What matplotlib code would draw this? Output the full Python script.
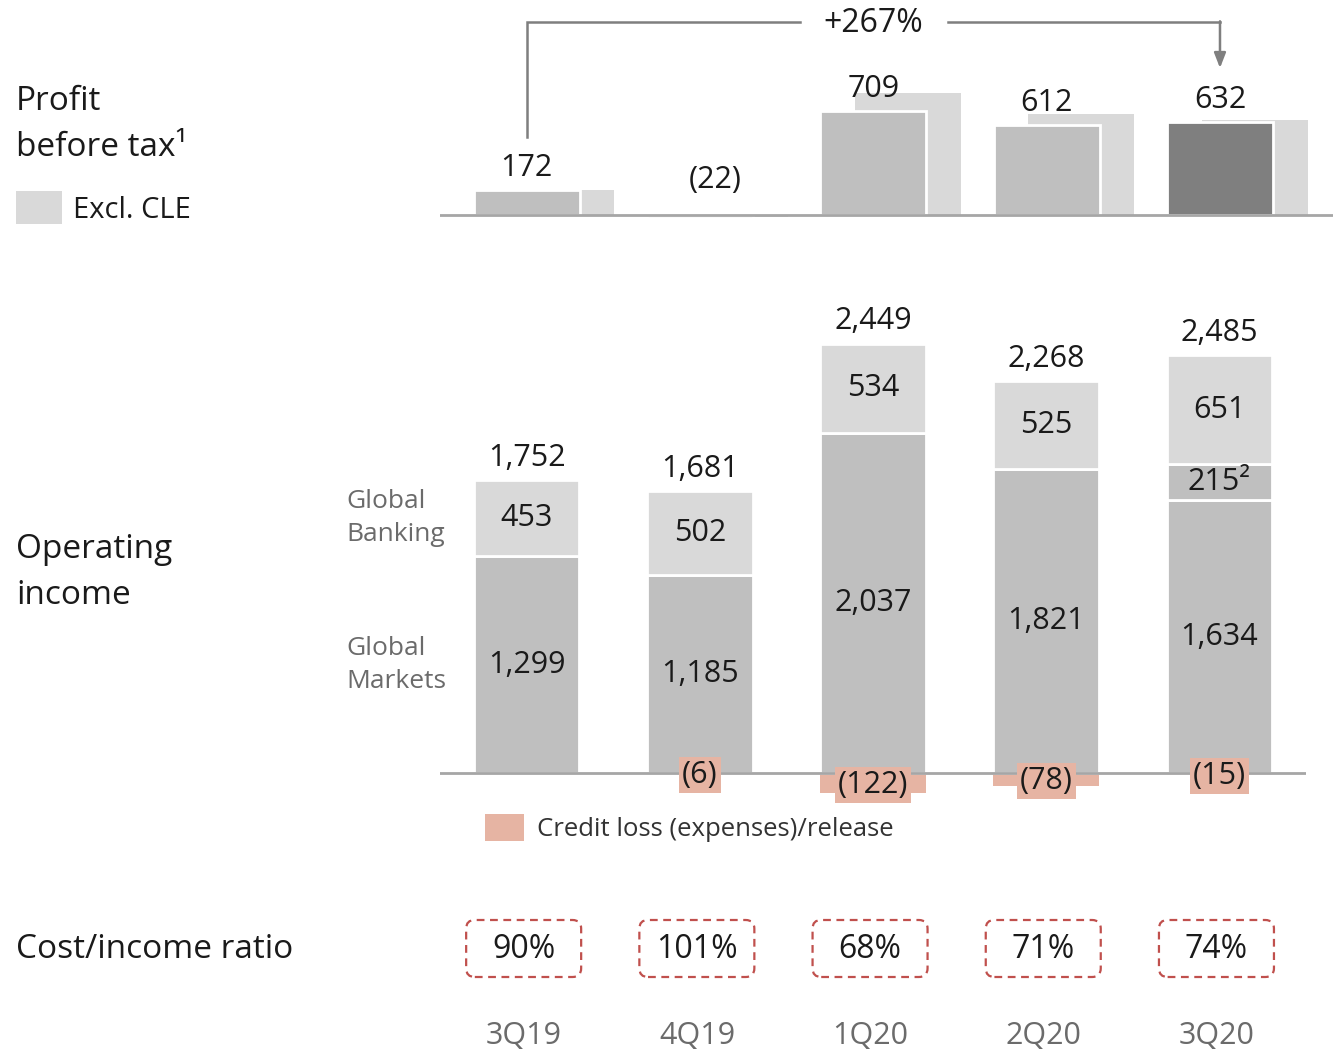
import matplotlib.pyplot as plt
from matplotlib.patches import Rectangle, FancyBboxPatch

plt.rcParams['font.family'] = ['Open Sans', 'DejaVu Sans']

# data
quarters = ['3Q19', '4Q19', '1Q20', '2Q20', '3Q20']
profit = [172, -22, 709, 612, 632]
profit_excl_cle = [172, -16, 831, 690, 647]
global_markets = [1299, 1185, 2037, 1821, 1634]
other = [0, 0, 0, 0, 215]
global_banking = [453, 502, 534, 525, 651]
credit_loss = [0, -6, -122, -78, -15]
total_income = [1752, 1681, 2449, 2268, 2485]
cost_income = ['90%', '101%', '68%', '71%', '74%']

# colours
c_gm = '#bfbfbf'
c_gb = '#d9d9d9'
c_dark = '#7f7f7f'
c_pink = '#e6b4a3'
c_red = '#c0504d'
c_line = '#a6a6a6'
c_txt = '#1a1a1a'
c_grey_txt = '#6b6b6b'

W, H = 1333, 1050
fig = plt.figure(figsize=(W / 100, H / 100), dpi=100)
x = list(range(len(quarters)))
bw = 0.61
fs_num = 22

def px_axes(left, top, right, bottom):
    return fig.add_axes([left / W, 1 - bottom / H, (right - left) / W, (bottom - top) / H])

# ---- profit before tax ----
ax1 = px_axes(440, 0, 1333, 250)
ax1.set_axis_off()
ax1.set_xlim(-0.5, 4.652)
ax1.set_ylim(-238, 1463)
ax1.bar([i + 0.2 for i in x], profit_excl_cle, width=bw, color=c_gb, zorder=1)
cols = [c_gm, '#e3e3e3', c_gm, c_gm, c_dark]
ax1.bar(x, profit, width=bw, color=cols, edgecolor='white', linewidth=2, zorder=2)
ax1.axhline(0, color=c_line, lw=2, zorder=3)
for i, v in enumerate(profit):
    if v >= 0:
        ax1.annotate(f'{v:,}', (i, v), xytext=(0, 16), textcoords='offset points',
                     ha='center', va='center', fontsize=fs_num, color=c_txt, zorder=4)
    else:
        ax1.annotate(f'({-v})', (i + 0.09, 0), xytext=(0, 25), textcoords='offset points',
                     ha='center', va='center', fontsize=fs_num, color=c_txt, zorder=4)
# growth arrow
ax1.plot([0, 0, 1.576], [531, 1313, 1313], color=c_dark, lw=1.8, solid_joinstyle='miter')
ax1.plot([2.43, 4], [1313, 1313], color=c_dark, lw=1.8)
ax1.annotate('', xy=(4, 1000), xytext=(4, 1318),
             arrowprops=dict(arrowstyle='-|>,head_length=0.9,head_width=0.35', color=c_dark, lw=1.8,
                             shrinkA=0, shrinkB=0))
ax1.text(2, 1300, '+267%', ha='center', va='center', fontsize=23, color=c_txt)

# ---- operating income ----
ax2 = px_axes(440, 300, 1306, 860)
ax2.set_axis_off()
ax2.set_xlim(-0.5, 4.5)
ax2.set_ylim(-521, 2832)
ax2.bar(x, credit_loss, width=bw, color=c_pink, zorder=1)
ax2.bar(x, global_markets, width=bw, color=c_gm, edgecolor='white', linewidth=2, zorder=2)
bot2 = [g for g in global_markets]
ax2.bar(x, other, bottom=bot2, width=bw, color=c_gm, edgecolor='white', linewidth=2, zorder=2)
bot3 = [g + o for g, o in zip(global_markets, other)]
ax2.bar(x, global_banking, bottom=bot3, width=bw, color=c_gb, edgecolor='white', linewidth=2, zorder=2)
ax2.axhline(0, color=c_line, lw=2, zorder=3)

for i in x:
    ax2.text(i, global_markets[i] / 2, f'{global_markets[i]:,}', ha='center', va='center',
             fontsize=fs_num, color=c_txt, zorder=4)
    if other[i]:
        ax2.text(i, bot2[i] + other[i] / 2, f'{other[i]}\u00b2', ha='center', va='center',
                 fontsize=fs_num, color=c_txt, zorder=4)
    ax2.text(i, bot3[i] + global_banking[i] / 2, f'{global_banking[i]}', ha='center', va='center',
             fontsize=fs_num, color=c_txt, zorder=4)
    top = bot3[i] + global_banking[i]
    ax2.annotate(f'{total_income[i]:,}', (i, top), xytext=(0, 16), textcoords='offset points',
                 ha='center', va='center', fontsize=fs_num, color=c_txt, zorder=4)
    if credit_loss[i]:
        ax2.text(i, credit_loss[i] / 2 - 10, f'({-credit_loss[i]})', ha='center', va='center',
                 fontsize=fs_num, color=c_txt, zorder=5,
                 bbox=dict(boxstyle='square,pad=0.1', fc=c_pink, ec='none'))

fig.text(346 / W, 1 - 518 / H, 'Global\nBanking', ha='left', va='center', fontsize=19,
         color=c_grey_txt, linespacing=1.4)
fig.text(346 / W, 1 - 665 / H, 'Global\nMarkets', ha='left', va='center', fontsize=19,
         color=c_grey_txt, linespacing=1.4)

# credit loss legend
fig.add_artist(Rectangle((485 / W, 1 - 841 / H), 39 / W, 27 / H, transform=fig.transFigure,
                         fc=c_pink, ec='none'))
fig.text(537 / W, 1 - 829 / H, 'Credit loss (expenses)/release', ha='left', va='center',
         fontsize=18.5, color='#333333')

# ---- cost/income ratio row ----
ax3 = px_axes(440, 900, 1306, 1050)
ax3.set_axis_off()
ax3.set_xlim(-0.5, 4.5)
ax3.set_ylim(0, 150 / 173.2)
bx_w, bx_h = 115 / 173.2, 57 / 173.2
yc = (1050 - 948.5) / 173.2
for i in x:
    xc = i - 0.017
    ax3.add_patch(FancyBboxPatch((xc - bx_w / 2, yc - bx_h / 2), bx_w, bx_h,
                                 boxstyle='round,pad=0,rounding_size=0.05', fc='none', ec=c_red,
                                 lw=1.6, ls=(0, (3.5, 2.5))))
    ax3.text(xc, yc - 0.005, cost_income[i], ha='center', va='center', fontsize=23, color=c_txt)
    ax3.text(i - 0.015, (1050 - 1036) / 173.2, quarters[i], ha='center', va='center',
             fontsize=22, color=c_grey_txt)

# ---- row titles ----
fs_title = 24
fig.text(16 / W, 1 - 101 / H, 'Profit', ha='left', va='center', fontsize=fs_title, color=c_txt)
fig.text(16 / W, 1 - 147 / H, 'before tax\u00b9', ha='left', va='center', fontsize=fs_title, color=c_txt)
fig.add_artist(Rectangle((16 / W, 1 - 224 / H), 46 / W, 33 / H, transform=fig.transFigure,
                         fc=c_gb, ec='none'))
fig.text(73 / W, 1 - 210 / H, 'Excl. CLE', ha='left', va='center', fontsize=21, color=c_txt)
fig.text(16 / W, 1 - 549 / H, 'Operating', ha='left', va='center', fontsize=fs_title, color=c_txt)
fig.text(16 / W, 1 - 595 / H, 'income', ha='left', va='center', fontsize=fs_title, color=c_txt)
fig.text(16 / W, 1 - 950 / H, 'Cost/income ratio', ha='left', va='center', fontsize=fs_title, color=c_txt)

fig.savefig('out.png', dpi=100)
